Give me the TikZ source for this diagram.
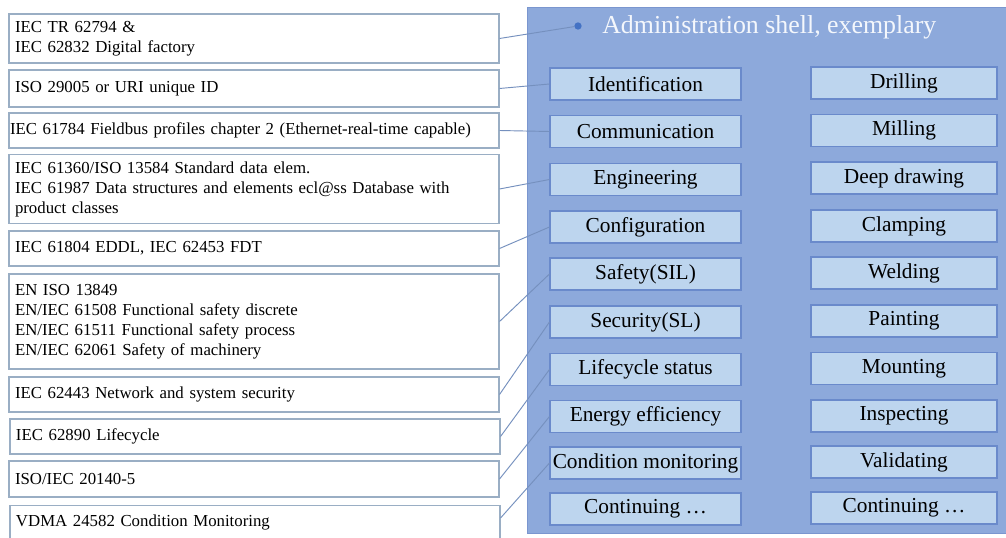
\documentclass[tikz,border=0pt]{standalone}
\usepackage{fontspec}
\setmainfont{Liberation Serif}
\definecolor{lboxc}{HTML}{9AAEC4}
\definecolor{panelc}{HTML}{8DA9DB}
\definecolor{panelb}{HTML}{7A96CF}
\definecolor{iboxc}{HTML}{BDD5EE}
\definecolor{iboxb}{HTML}{6A8ACB}
\definecolor{linec}{HTML}{7590BE}
\definecolor{dotc}{HTML}{4472C4}
\definecolor{titlec}{HTML}{F4F7FC}
\begin{document}
\begin{tikzpicture}[x=0.75pt,y=-0.75pt,
  lbox/.style={draw=lboxc, line width=0.8pt, fill=white, minimum width=367.5pt,
    text width=358.5pt, inner xsep=4.5pt, inner ysep=0pt, align=left,
    font=\fontsize{12.6}{15}\selectfont},
  ibox/.style={draw=iboxb, line width=0.8pt, fill=iboxc, minimum height=24pt,
    inner sep=0pt, font=\fontsize{16}{18}\selectfont},
  ileft/.style={ibox, minimum width=143.25pt},
  iright/.style={ibox, minimum width=139.5pt},
  conn/.style={draw=linec, line width=0.7pt}]
\useasboundingbox (0,0) rectangle (1006,538);
\clip (0,0) rectangle (1006,538);
\fill[white] (0,0) rectangle (1006,538);

% panel
\node[draw=panelb, line width=0.8pt, fill=panelc, minimum width=363.75pt, minimum height=394.5pt,
  anchor=north west, inner sep=0pt] (panel) at (527,7) {};
\node[circle, fill=dotc, inner sep=0pt, minimum size=5.5pt] (dot) at (578,26) {};
\node[anchor=west, text=titlec, inner sep=0pt, font=\fontsize{19.4}{21}\selectfont] (title) at (602,27) {Administration shell, exemplary};

% left boxes
\node[lbox, minimum height=36.75pt] (b1) at (254,38.5) {IEC TR 62794 \&\\IEC 62832 Digital factory};
\node[lbox, minimum height=27.75pt] (b2) at (254,88.5) {ISO 29005 or URI unique ID};
\node[lbox, minimum height=26.25pt, inner xsep=0.75pt, text width=366pt] (b3) at (254,130.5) {IEC 61784 Fieldbus profiles chapter 2 (Ethernet-real-time capable)};
\node[lbox, minimum height=51.75pt] (b4) at (254,189) {IEC 61360/ISO 13584 Standard data elem.\\IEC 61987 Data structures and elements ecl@ss Database with\\product classes};
\node[lbox, minimum height=26.25pt] (b5) at (254,248.5) {IEC 61804 EDDL, IEC 62453 FDT};
\node[lbox, minimum height=71.25pt] (b6) at (254,321.5) {EN ISO 13849\\EN/IEC 61508 Functional safety discrete\\EN/IEC 61511 Functional safety process\\EN/IEC 62061 Safety of machinery};
\node[lbox, minimum height=26.25pt] (b7) at (254,394.5) {IEC 62443 Network and system security};
\node[lbox, minimum height=26.25pt] (b8) at (255,436.5) {IEC 62890 Lifecycle};
\node[lbox, minimum height=27pt] (b9) at (254,479) {ISO/IEC 20140-5};
\node[lbox, minimum height=40pt, anchor=north, text depth=18pt] (b10) at (255,505) {VDMA 24582 Condition Monitoring};

% inner boxes left column
\node[ileft] (i1) at (645.5,84) {Identification};
\node[ileft] (i2) at (645.5,131.5) {Communication};
\node[ileft] (i3) at (645.5,179.5) {Engineering};
\node[ileft] (i4) at (645.5,227) {Configuration};
\node[ileft] (i5) at (645.5,274) {Safety(SIL)};
\node[ileft] (i6) at (645.5,322) {Security(SL)};
\node[ileft] (i7) at (645.5,369.5) {Lifecycle status};
\node[ileft] (i8) at (645.5,416.5) {Energy efficiency};
\node[ileft] (i9) at (645.5,463) {Condition monitoring};
\node[ileft] (i10) at (645.5,509) {Continuing \dots};

% inner boxes right column
\node[iright] (r1) at (904,83) {Drilling};
\node[iright] (r2) at (904,130.5) {Milling};
\node[iright] (r3) at (904,178) {Deep drawing};
\node[iright] (r4) at (904,226) {Clamping};
\node[iright] (r5) at (904,273) {Welding};
\node[iright] (r6) at (904,321) {Painting};
\node[iright] (r7) at (904,368.5) {Mounting};
\node[iright] (r8) at (904,416) {Inspecting};
\node[iright] (r9) at (904,462) {Validating};
\node[iright] (r10) at (904,508) {Continuing \dots};

% connectors
\draw[conn] (b1.east) -- (dot);
\draw[conn] (b2.east) -- (i1.west);
\draw[conn] (b3.east) -- (i2.west);
\draw[conn] (b4.east) -- (i3.west);
\draw[conn] (b5.east) -- (i4.west);
\draw[conn] (b6.east) -- (i5.west);
\draw[conn] (b7.east) -- (i6.west);
\draw[conn] (b8.east) -- (i7.west);
\draw[conn] (b9.east) -- (i8.west);
\draw[conn] ([yshift=-9.75pt]b10.north east) -- (i9.west);
\end{tikzpicture}
\end{document}
